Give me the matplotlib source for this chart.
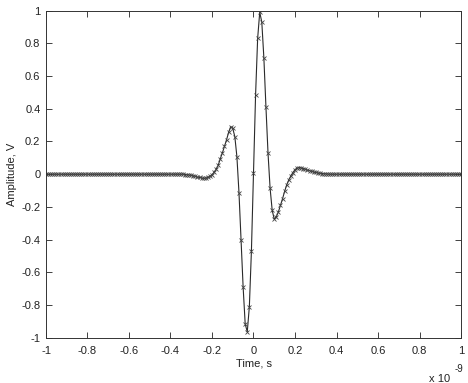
import numpy as np
import matplotlib
matplotlib.use("Agg")
import matplotlib.pyplot as plt
from matplotlib.ticker import FuncFormatter

plt.rcParams['font.family'] = ['Liberation Sans', 'DejaVu Sans']
plt.rcParams['axes.unicode_minus'] = False

# sample grid: 201 samples from -1 ns to 1 ns (10 ps step)
time_s = np.arange(-100, 101) * 1e-11

# pulse values (V) for samples k = -33 ... 36 (t = k*10 ps); zero elsewhere
pulse_start_k = -33
pulse_values = [
    -0.002, -0.003, -0.005, -0.007, -0.010, -0.013, -0.017, -0.020, -0.023, -0.025,   # -33..-24
    -0.024, -0.020, -0.013, -0.003, 0.012, 0.030, 0.055, 0.095, 0.130, 0.170,          # -23..-14
    0.210, 0.255, 0.290, 0.280, 0.230, 0.107, -0.113, -0.400, -0.690, -0.916,          # -13..-4
    -0.963, -0.810, -0.468, 0.005, 0.484, 0.830, 0.990, 0.930, 0.710, 0.410,           # -3..6
    0.128, -0.086, -0.220, -0.275, -0.260, -0.230, -0.190, -0.150, -0.105, -0.065,     # 7..16
    -0.035, -0.010, 0.010, 0.028, 0.038, 0.040, 0.038, 0.034, 0.030, 0.026,            # 17..26
    0.022, 0.018, 0.014, 0.011, 0.008, 0.006, 0.004, 0.003, 0.002, 0.001,              # 27..36
]

amplitude = np.zeros(len(time_s))
i0 = pulse_start_k + 100
amplitude[i0:i0 + len(pulse_values)] = pulse_values

x_ticks = [-1, -0.8, -0.6, -0.4, -0.2, 0, 0.2, 0.4, 0.6, 0.8, 1]
y_ticks = [-1, -0.8, -0.6, -0.4, -0.2, 0, 0.2, 0.4, 0.6, 0.8, 1]

fig = plt.figure(figsize=(4.68, 3.83), dpi=100)
ax = fig.add_axes([46/468, 1 - 337.8/383, (461 - 46)/468, (337.8 - 10.6)/383])

ax.plot(time_s, amplitude, color='#2a2a2a', lw=0.8, marker='x', ms=3.5,
        mew=0.6, mec='#444444')

ax.set_xlim(-1e-9, 1e-9)
ax.set_ylim(-1, 1)
ax.set_xticks([v * 1e-9 for v in x_ticks])
ax.set_yticks(y_ticks)
ax.xaxis.set_major_formatter(FuncFormatter(lambda v, p: '%g' % round(v / 1e-9, 6)))
ax.yaxis.set_major_formatter(FuncFormatter(lambda v, p: '%g' % round(v, 6)))

ax.tick_params(direction='in', length=4, width=0.6, top=True, right=True,
               labelsize=8, colors='#222222')
ax.tick_params(axis='x', pad=6)
ax.tick_params(axis='y', pad=4)
for s in ax.spines.values():
    s.set_linewidth(0.7)
    s.set_color('#333333')

ax.set_xlabel('Time, s', fontsize=8, color='#222222', labelpad=2)
ax.set_ylabel('Amplitude, V', fontsize=8, color='#222222', labelpad=3)

fig.text(440/468, 1 - 378.5/383, 'x 10', fontsize=8, color='#222222', ha='center', va='center')
fig.text(458.5/468, 1 - 368.5/383, '-9', fontsize=7, color='#222222', ha='center', va='center')

fig.savefig('out.png', dpi=100)
